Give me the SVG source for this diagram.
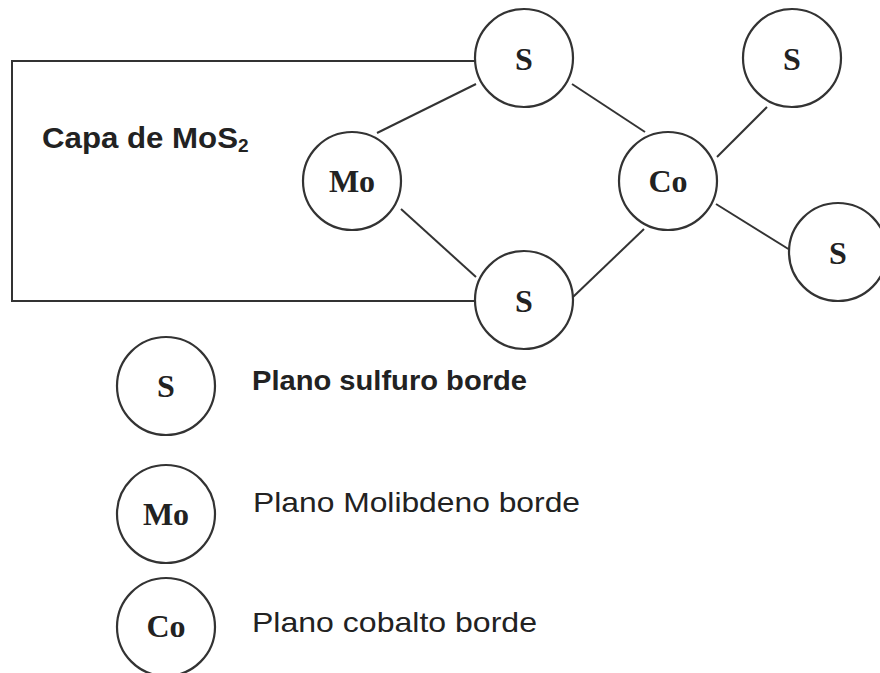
<svg xmlns="http://www.w3.org/2000/svg" width="880" height="673" viewBox="0 0 880 673">
<style>
.node{fill:#fff;stroke:#333;stroke-width:2.2}
.lbl{font-family:"Liberation Serif","Times New Roman",serif;font-weight:bold;font-size:32px;fill:#222;text-anchor:middle}
.edge{stroke:#333;stroke-width:2;fill:none}
.txt{font-family:"Liberation Sans",Arial,sans-serif;font-size:28px;fill:#222}
.b{font-weight:bold}
</style>
<rect width="880" height="673" fill="#fff"/>
<g id="connectors">
<path class="edge" d="M475 61 H12 V301 H475"/>
<line class="edge" x1="476" y1="84" x2="377" y2="133"/>
<line class="edge" x1="401" y1="209" x2="476" y2="277"/>
<line class="edge" x1="572" y1="84" x2="645" y2="132"/>
<line class="edge" x1="644" y1="229" x2="573" y2="297"/>
<line class="edge" x1="717" y1="157" x2="767" y2="107"/>
<line class="edge" x1="716" y1="204" x2="790" y2="250"/>
</g>
<g id="layer-label">
<text class="txt b" x="42" y="148" style="font-size:29px" textLength="196" lengthAdjust="spacingAndGlyphs">Capa de MoS</text>
<text class="txt b" x="238" y="152" style="font-size:19px">2</text>
</g>
<g id="node-s-top"><circle class="node" cx="524" cy="58" r="49"/><text class="lbl" x="524" y="70">S</text></g>
<g id="node-mo"><circle class="node" cx="352" cy="181" r="49"/><text class="lbl" x="352" y="192">Mo</text></g>
<g id="node-s-bottom"><circle class="node" cx="524" cy="300" r="49"/><text class="lbl" x="524" y="312">S</text></g>
<g id="node-co"><circle class="node" cx="668" cy="181" r="49"/><text class="lbl" x="668" y="192">Co</text></g>
<g id="node-s-topright"><circle class="node" cx="792" cy="58" r="49"/><text class="lbl" x="792" y="70">S</text></g>
<g id="node-s-right"><circle class="node" cx="838" cy="252" r="49"/><text class="lbl" x="838" y="264">S</text></g>
<g id="legend-s"><circle class="node" cx="166" cy="386" r="49"/><text class="lbl" x="166" y="397">S</text>
<text class="txt b" x="252" y="390" textLength="275" lengthAdjust="spacingAndGlyphs">Plano sulfuro borde</text></g>
<g id="legend-mo"><circle class="node" cx="166" cy="514" r="49"/><text class="lbl" x="166" y="525">Mo</text>
<text class="txt" x="253" y="512" textLength="327" lengthAdjust="spacingAndGlyphs">Plano Molibdeno borde</text></g>
<g id="legend-co"><circle class="node" cx="166" cy="627" r="49"/><text class="lbl" x="166" y="637">Co</text>
<text class="txt" x="252" y="632" textLength="285" lengthAdjust="spacingAndGlyphs">Plano cobalto borde</text></g>
</svg>
